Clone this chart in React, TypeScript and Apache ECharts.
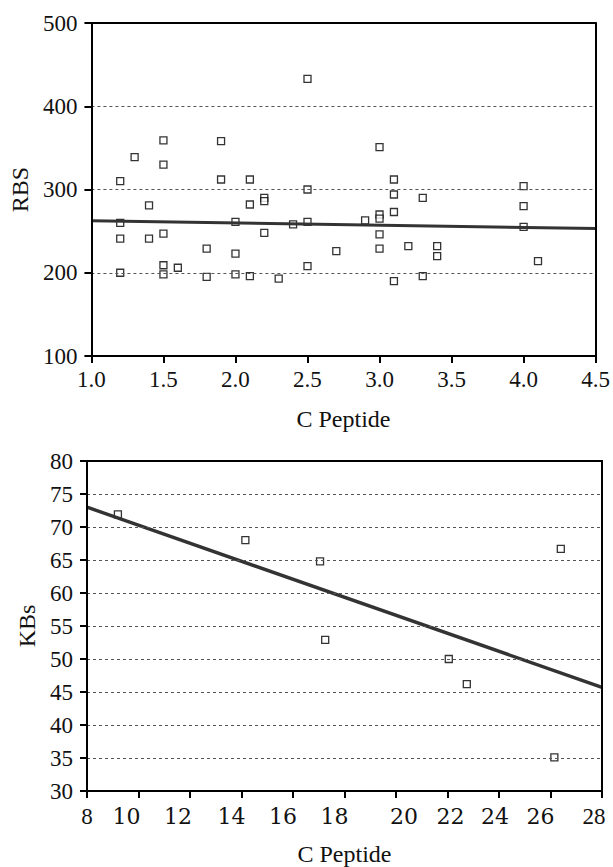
import React, { useEffect, useRef } from "react";
import * as echarts from "echarts";

// ---- Top panel data (RBS vs C Peptide) ----
const topX = [1.2, 1.3, 1.5, 1.5, 1.4, 1.2, 1.2, 1.4, 1.5, 1.5, 1.5, 1.6, 1.2, 1.8, 1.8, 1.9, 1.9, 2.0, 2.0, 2.0, 2.1, 2.1, 2.1, 2.2, 2.2, 2.2, 2.3, 2.4, 2.5, 2.5, 2.5, 2.5, 2.7, 2.9, 3.0, 3.0, 3.0, 3.0, 3.0, 3.1, 3.1, 3.1, 3.1, 3.2, 3.3, 3.3, 3.4, 3.4, 4.0, 4.0, 4.0, 4.1];
const topY = [310, 339, 359, 330, 281, 260, 241, 241, 247, 209, 198, 206, 200, 229, 195, 358, 312, 261, 223, 198, 312, 282, 196, 290, 286, 248, 193, 258, 433, 300, 261, 208, 226, 263, 351, 270, 265, 246, 229, 312, 294, 273, 190, 232, 290, 196, 232, 220, 304, 280, 255, 214];
const topFitX = [1.0, 4.5];
const topFitY = [262.4, 253.2];

// ---- Bottom panel data (KBs vs C Peptide) ----
const botX = [9.2, 14.15, 17.05, 17.25, 22.05, 22.75, 26.15, 26.4];
const botY = [71.9, 68, 64.8, 52.9, 50, 46.2, 35.1, 66.7];
const botFitX = [8, 28];
const botFitY = [73, 45.7];

// axis ranges / ticks
const topXRange = [1.0, 4.5, 0.5];
const topYRange = [100, 500, 100];
const botXRange = [8, 28, 2];
const botYRange = [30, 80, 5];

// label styling (horizontal nudges of bottom x labels, px)
const botXShift: Record<number, number> = { 8: 0, 10: -12, 12: -12, 14: -10, 16: -10, 18: -10, 20: 8, 22: 3, 24: -4, 26: -10, 28: -8 };
const plainLabels = [8, 28];

const SERIF = "Liberation Serif";
const WIDE = "DejaVu Serif";
const FS = 23;
const NAME_FS = 24;

const zip = (xs: number[], ys: number[]) => xs.map((x, i) => [x, ys[i]]);

export default function App() {
  const ref = useRef<HTMLDivElement>(null);
  useEffect(() => {
    if (!ref.current) return;
    const chart = echarts.init(ref.current, undefined, { renderer: "svg" });

    const rich: Record<string, any> = {};
    Object.keys(botXShift).forEach((k) => {
      const v = Number(k);
      const s = botXShift[v];
      const plain = plainLabels.includes(v);
      rich["s" + v] = {
        fontFamily: plain ? SERIF : WIDE,
        fontSize: plain ? FS : 22,
        color: "#111",
        padding: [0, s < 0 ? -2 * s : 0, 0, s > 0 ? 2 * s : 0],
      };
    });

    const axisLine = { show: true, lineStyle: { color: "#000", width: 2 } };
    const axisTick = { show: true, length: 7, lineStyle: { color: "#000", width: 2 } };
    const label = { fontFamily: SERIF, fontSize: FS, color: "#111" };
    const nameStyle = { fontFamily: SERIF, fontSize: NAME_FS, color: "#111" };
    const split = { show: true, lineStyle: { color: "#555", type: [3, 3], width: 1 } };
    const frameAxis = (gridIndex: number, r: number[]) => ({
      type: "value",
      gridIndex,
      min: r[0],
      max: r[1],
      interval: r[2],
      z: 5,
      axisLine,
      axisTick: { show: false },
      axisLabel: { show: false },
      splitLine: { show: false },
    });

    const option: any = {
      animation: false,
      backgroundColor: "#fff",
      textStyle: { fontFamily: SERIF },
      grid: [
        { left: 87, top: 23, width: 515, height: 333 },
        { left: 87, top: 461, width: 515, height: 333 },
      ],
      xAxis: [
        {
          type: "value",
          gridIndex: 0,
          min: topXRange[0],
          max: topXRange[1],
          interval: topXRange[2],
          name: "C Peptide",
          nameLocation: "middle",
          nameGap: 51,
          nameTextStyle: nameStyle,
          axisLine,
          axisTick,
          axisLabel: { ...label, margin: 12, formatter: (v: number) => v.toFixed(1) },
          splitLine: { show: false },
          z: 4,
        },
        { ...frameAxis(0, topXRange), position: "top" },
        {
          type: "value",
          gridIndex: 1,
          min: botXRange[0],
          max: botXRange[1],
          interval: botXRange[2],
          name: "C Peptide",
          nameLocation: "middle",
          nameGap: 51,
          nameTextStyle: nameStyle,
          axisLine,
          axisTick,
          axisLabel: {
            margin: 14,
            formatter: (v: number) => `{s${v}|${v}}`,
            rich,
          },
          splitLine: { show: false },
          z: 4,
        },
        { ...frameAxis(1, botXRange), position: "top" },
      ],
      yAxis: [
        {
          type: "value",
          gridIndex: 0,
          min: topYRange[0],
          max: topYRange[1],
          interval: topYRange[2],
          name: "RBS",
          nameLocation: "middle",
          nameGap: 59,
          nameTextStyle: nameStyle,
          axisLine,
          axisTick,
          axisLabel: { ...label, margin: 14 },
          splitLine: split,
          z: 4,
        },
        { ...frameAxis(0, topYRange), position: "right" },
        {
          type: "value",
          gridIndex: 1,
          min: botYRange[0],
          max: botYRange[1],
          interval: botYRange[2],
          name: "KBs",
          nameLocation: "middle",
          nameGap: 45,
          nameTextStyle: nameStyle,
          axisLine,
          axisTick,
          axisLabel: { ...label, margin: 14 },
          splitLine: split,
          z: 4,
        },
        { ...frameAxis(1, botYRange), position: "right" },
      ],
      series: [
        {
          type: "scatter",
          xAxisIndex: 0,
          yAxisIndex: 0,
          symbol: "rect",
          symbolSize: 7,
          itemStyle: { color: "#fff", borderColor: "#000", borderWidth: 1.3 },
          data: zip(topX, topY),
          z: 2,
        },
        {
          type: "line",
          xAxisIndex: 0,
          yAxisIndex: 0,
          symbol: "none",
          lineStyle: { color: "#333", width: 3 },
          data: zip(topFitX, topFitY),
          z: 3,
        },
        {
          type: "scatter",
          xAxisIndex: 2,
          yAxisIndex: 2,
          symbol: "rect",
          symbolSize: 7,
          itemStyle: { color: "#fff", borderColor: "#000", borderWidth: 1.3 },
          data: zip(botX, botY),
          z: 2,
        },
        {
          type: "line",
          xAxisIndex: 2,
          yAxisIndex: 2,
          symbol: "none",
          lineStyle: { color: "#333", width: 3.5 },
          data: zip(botFitX, botFitY),
          z: 3,
        },
      ],
    };
    chart.setOption(option);
    return () => chart.dispose();
  }, []);

  return (
    <div
      ref={ref}
      style={{ position: "fixed", left: 0, top: 0, width: 613, height: 867, background: "#fff" }}
    />
  );
}
